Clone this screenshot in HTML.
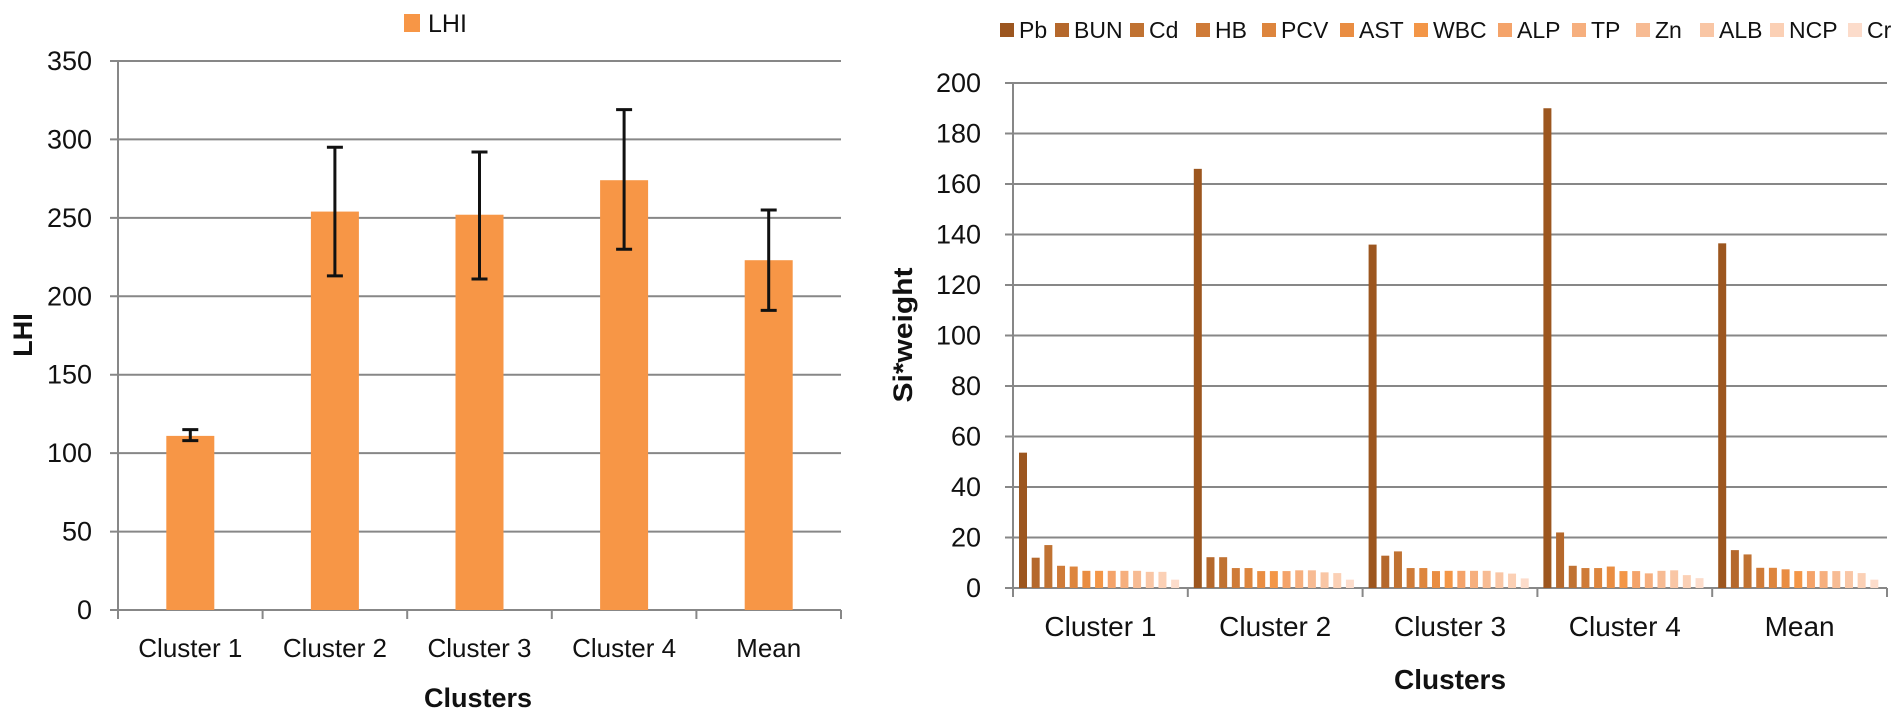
<!DOCTYPE html>
<html><head><meta charset="utf-8"><style>
html,body{margin:0;padding:0;background:#fff;}
svg{display:block;font-family:"Liberation Sans",sans-serif;}
</style></head><body>
<svg id="s" width="1901" height="720" viewBox="0 0 1901 720" xmlns="http://www.w3.org/2000/svg">
<g id="left"></g>
<g id="right"></g>
</svg>
<script>
const lhiCategories=["Cluster 1","Cluster 2","Cluster 3","Cluster 4","Mean"];
const lhiValues=[111,254,252,274,223];
const lhiErrLow=[108,213,211,230,191];
const lhiErrHigh=[115,295,292,319,255];
const lhiTicks=[0,50,100,150,200,250,300,350];

const rCategories=["Cluster 1","Cluster 2","Cluster 3","Cluster 4","Mean"];
const rSeries=["Pb","BUN","Cd","HB","PCV","AST","WBC","ALP","TP","Zn","ALB","NCP","Cr"];
const rC1=[53.6,12,17,8.8,8.5,6.8,6.8,6.8,6.8,6.8,6.4,6.4,3.3];
const rC2=[166,12.2,12.2,7.9,7.9,6.7,6.7,6.7,7,7,6.2,5.9,3.3];
const rC3=[136,12.8,14.5,7.9,7.9,6.7,6.8,6.8,6.8,6.8,6.2,5.7,3.8];
const rC4=[190,22,8.8,7.9,7.9,8.5,6.7,6.7,5.8,6.8,7,5.1,3.9];
const rMean=[136.5,15,13.3,8,8,7.4,6.7,6.7,6.7,6.7,6.7,5.9,3.3];
const rTicks=[0,20,40,60,80,100,120,140,160,180,200];

const NS="http://www.w3.org/2000/svg";
function mk(p,tag,at,txt){const e=document.createElementNS(NS,tag);for(const k in at)e.setAttribute(k,at[k]);if(txt!==undefined)e.textContent=txt;p.appendChild(e);return e;}

// LEFT
const L=document.getElementById('left');
const lx0=118,lx1=841,ly0=610,ly1=61;
const ly=v=>ly0-(v/350)*(ly0-ly1);
const lbw=(lx1-lx0)/lhiCategories.length;
lhiTicks.forEach(t=>{
 const g=mk(L,'line',{x1:lx0-8,x2:lx1,y1:ly(t),y2:ly(t),stroke:'#878787','stroke-width':2});
 
 
 const tx=mk(L,'text',{x:92,y:ly(t)+9,'text-anchor':'end','font-size':27,fill:'#111'},t);
 
 
});
const lax=mk(L,'line',{x1:lx0,x2:lx0,y1:ly1,y2:ly0,stroke:'#878787','stroke-width':2});


for(let i=0;i<=lhiCategories.length;i++){
 const t=mk(L,'line',{x1:lx0+i*lbw,x2:lx0+i*lbw,y1:ly0,y2:ly0+9,stroke:'#878787','stroke-width':2});
 
 
}
lhiCategories.forEach((c,i)=>{
 const cx=lx0+(i+0.5)*lbw;
 const b=mk(L,'rect',{x:cx-24,y:ly(lhiValues[i]),width:48,height:ly0-ly(lhiValues[i]),fill:'#f79646'});
 
 
 const e=mk(L,'path',{d:`M${cx-8},${ly(lhiErrHigh[i])}H${cx+8}M${cx},${ly(lhiErrHigh[i])}V${ly(lhiErrLow[i])}M${cx-8},${ly(lhiErrLow[i])}H${cx+8}`,stroke:'#111','stroke-width':3,fill:'none'});
 
 
 const t=mk(L,'text',{x:cx,y:657,'text-anchor':'middle','font-size':26,fill:'#111'},c);
 
 
});
const lyt=mk(L,'text',{x:32,y:335,'text-anchor':'middle','font-size':27,'font-weight':'bold',fill:'#111',transform:'rotate(-90 32 335)'},'LHI');


const lxt=mk(L,'text',{x:478,y:707,'text-anchor':'middle','font-size':27,'font-weight':'bold',fill:'#111'},'Clusters');


const lls=mk(L,'rect',{x:404,y:14,width:16,height:18,fill:'#f79646'});


const llt=mk(L,'text',{x:428,y:32,'font-size':25,fill:'#111'},'LHI');



// RIGHT
const R=document.getElementById('right');
const colors=['#9c561f','#b5682c','#c07232','#cf7b38','#dd853d','#e98d42','#f39647','#f4a36a','#f6af7e','#f7bb93','#f9c6a5','#fbd0b5','#fcdccb'];
const rx0=1013,rx1=1887,ry0=588,ry1=83;
const ry=v=>ry0-(v/200)*(ry0-ry1);
const rcw=(rx1-rx0)/rCategories.length;
const rData=[rC1,rC2,rC3,rC4,rMean];
rTicks.forEach(t=>{
 const g=mk(R,'line',{x1:rx0-8,x2:rx1,y1:ry(t),y2:ry(t),stroke:'#878787','stroke-width':2});
 
 
 const tx=mk(R,'text',{x:981,y:ry(t)+9,'text-anchor':'end','font-size':27,fill:'#111'},t);
 
 
});
const rax=mk(R,'line',{x1:rx0,x2:rx0,y1:ry1,y2:ry0,stroke:'#878787','stroke-width':2});


for(let i=0;i<=rCategories.length;i++){
 const t=mk(R,'line',{x1:rx0+i*rcw,x2:rx0+i*rcw,y1:ry0,y2:ry0+9,stroke:'#878787','stroke-width':2});
 
 
}
rCategories.forEach((c,i)=>{
 const base=rx0+i*rcw+6;
 const stride=(rcw-10)/rSeries.length;
 rSeries.forEach((s,j)=>{
  const v=rData[i][j];
  const b=mk(R,'rect',{x:base+j*stride,y:ry(v),width:8,height:ry0-ry(v),fill:colors[j]});
  
  
 });
 const t=mk(R,'text',{x:rx0+(i+0.5)*rcw,y:636,'text-anchor':'middle','font-size':28,fill:'#111'},c);
 
 
});
const ryt=mk(R,'text',{x:912,y:335,'text-anchor':'middle','font-size':27,'font-weight':'bold',fill:'#111',textLength:135,lengthAdjust:'spacingAndGlyphs',transform:'rotate(-90 912 335)'},'Si*weight');


const rxt=mk(R,'text',{x:1450,y:689,'text-anchor':'middle','font-size':28,'font-weight':'bold',fill:'#111'},'Clusters');


const legX=[1000,1055,1130,1196,1262,1340,1414,1498,1572,1636,1700,1770,1848];
rSeries.forEach((s,j)=>{
 const sq=mk(R,'rect',{x:legX[j],y:23,width:14,height:14,fill:colors[j]});
 
 
 const t=mk(R,'text',{x:legX[j]+19,y:38,'font-size':23,fill:'#111'},s);
 
 
});
</script>
</body></html>
